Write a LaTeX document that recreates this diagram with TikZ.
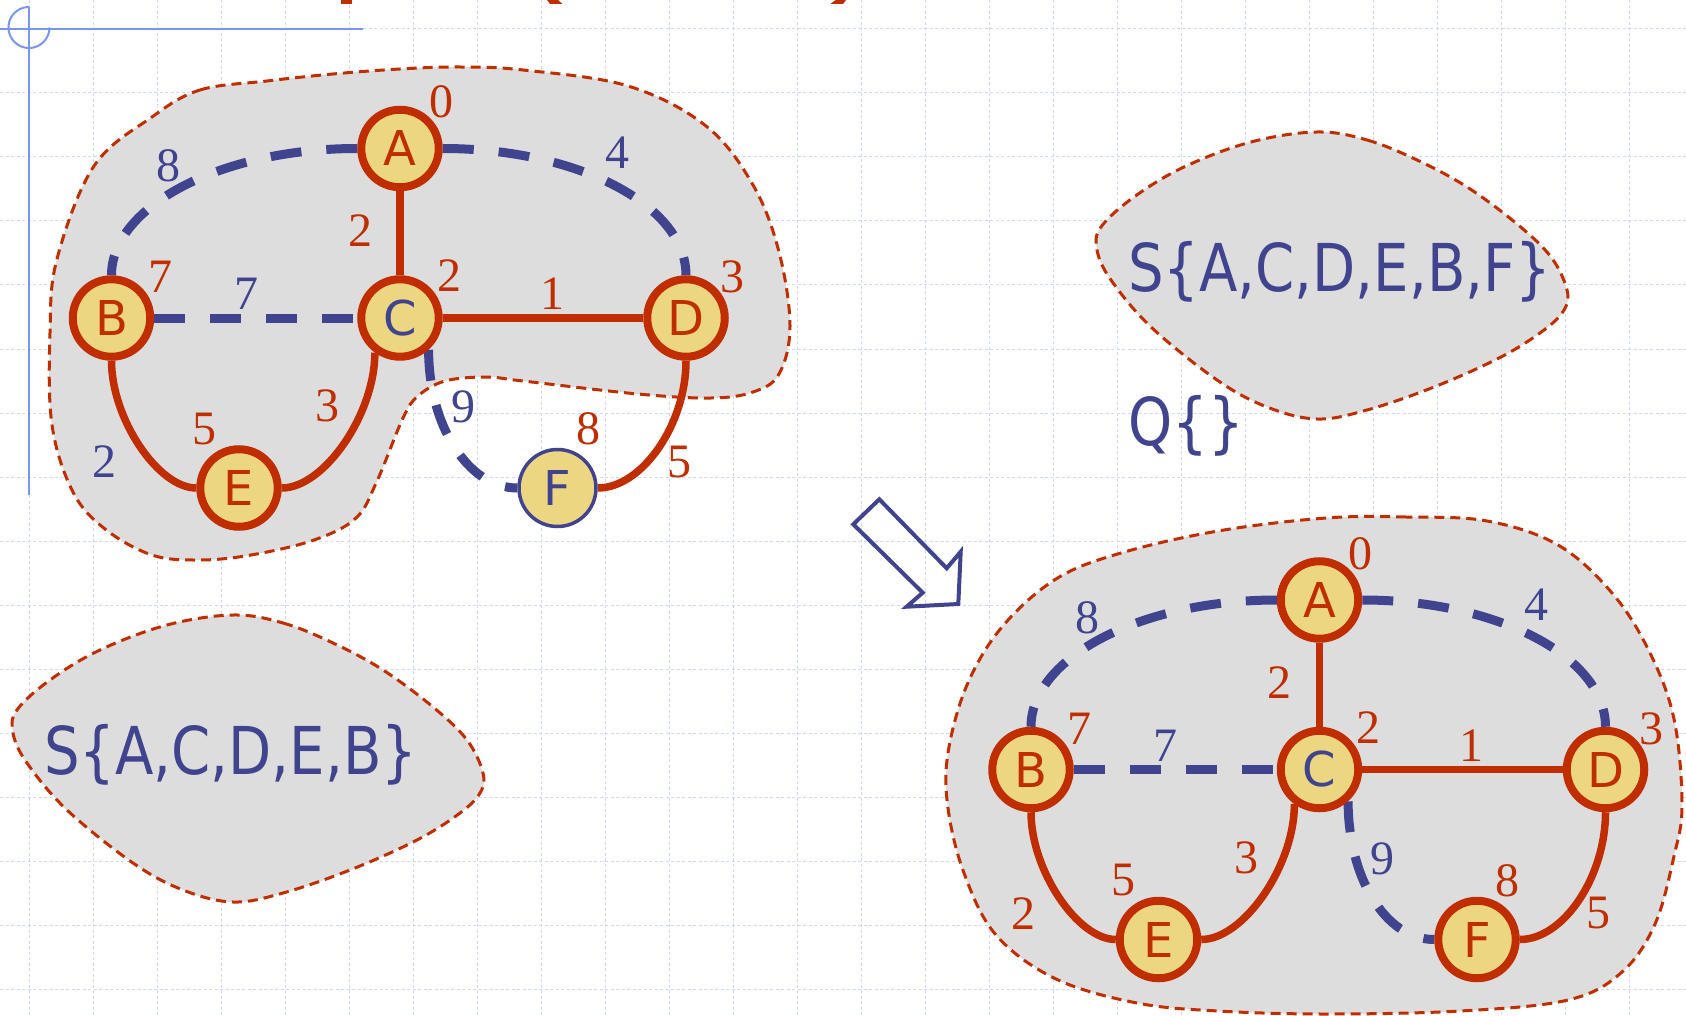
\documentclass[tikz,border=0pt]{standalone}
\usepackage{fontspec}
\usetikzlibrary{calc}
\newfontfamily\vtxfont{DejaVu Sans}
\newfontfamily\setfont[FakeStretch=0.85]{DejaVu Sans}
\newfontfamily\numfont{Liberation Serif}

\definecolor{gred}{RGB}{192,46,0}
\definecolor{gblue}{RGB}{64,68,142}
\definecolor{gyellow}{RGB}{236,214,130}
\definecolor{blobgray}{RGB}{221,221,221}
\definecolor{gridblue}{RGB}{205,215,247}
\definecolor{axisblue}{RGB}{120,150,240}

\pgfdeclarelayer{bg}
\pgfdeclarelayer{edges}
\pgfsetlayers{bg,edges,main}

\tikzset{
  vtx/.style={circle, draw=gred, line width=8pt, fill=gyellow, minimum size=77.5pt,
    inner sep=0pt, text=gred, font=\vtxfont\fontsize{48}{48}\selectfont},
  vtxopen/.style={vtx, draw=gblue, line width=3.5pt, minimum size=77pt, text=gblue},
  solidedge/.style={draw=gred, line width=7.5pt},
  dashededge/.style={draw=gblue, line width=9pt, dash pattern=on 31pt off 25pt},
  wlbl/.style={inner sep=0pt, font=\numfont\fontsize{48}{48}\selectfont},
  blob/.style={fill=blobgray, draw=gred, line width=3pt, dash pattern=on 10pt off 6pt},
  settext/.style={inner sep=0pt, text=gblue, font=\setfont\fontsize{66}{66}\selectfont},
  gridline/.style={draw=gridblue, line width=1pt, dash pattern=on 3pt off 2.5pt},
}

% one copy of the weighted graph: #1 name prefix, #2/#3 offset,
% #4 style of vertex F, #5 colour of the weight of edge B--E
\newcommand\drawgraph[5]{%
  \node[vtx] (#1A) at (400+#2,148.5+#3) {A};
  \node[vtx] (#1B) at (111.5+#2,318+#3) {B};
  \node[vtx, text=gblue] (#1C) at (400+#2,318+#3) {C};
  \node[vtx] (#1D) at (686+#2,318+#3) {D};
  \node[vtx] (#1E) at (239+#2,488+#3) {E};
  \node[#4] (#1F) at (557.5+#2,488+#3) {F};
  \begin{pgfonlayer}{edges}
    \draw[solidedge] (#1A) -- (#1C);
    \draw[solidedge] (#1C) -- (#1D);
    \draw[dashededge] (#1B.east) -- (#1C.west);
    \draw[dashededge] (#1A.west) .. controls ($(#1A.west)+(-136,0)$) and ($(#1B.north)+(0,-69)$) .. (#1B.north);
    \draw[dashededge] (#1A.east) .. controls ($(#1A.east)+(135,0)$) and ($(#1D.north)+(0,-70)$) .. (#1D.north);
    \draw[solidedge] (#1B.south) .. controls ($(#1B.south)+(0,58)$) and ($(#1E.west)+(-38,0)$) .. (#1E.west);
    \draw[solidedge] (#1C.234) .. controls ($(#1C.234)+(0,62)$) and ($(#1E.east)+(42,0)$) .. (#1E.east);
    \draw[dashededge] (#1C.-48) .. controls ($(#1C.-48)+(0,76)$) and ($(#1F.west)+(-49,0)$) .. (#1F.west);
    \draw[solidedge] (#1D.south) .. controls ($(#1D.south)+(0,64)$) and ($(#1F.east)+(44,0)$) .. (#1F.east);
  \end{pgfonlayer}
  \node[wlbl, text=gred]  (#1d0)  at (441+#2,102+#3) {0};
  \node[wlbl, text=gblue] (#1wAB) at (168+#2,166+#3) {8};
  \node[wlbl, text=gblue] (#1wAD) at (617+#2,153+#3) {4};
  \node[wlbl, text=gred]  (#1wAC) at (360+#2,231+#3) {2};
  \node[wlbl, text=gred]  (#1dB)  at (160+#2,277+#3) {7};
  \node[wlbl, text=gblue] (#1wBC) at (246+#2,294+#3) {7};
  \node[wlbl, text=gred]  (#1dC)  at (449+#2,276+#3) {2};
  \node[wlbl, text=gred]  (#1wCD) at (552+#2,294+#3) {1};
  \node[wlbl, text=gred]  (#1dD)  at (732+#2,277+#3) {3};
  \node[wlbl, text=gred]  (#1wCE) at (327+#2,406+#3) {3};
  \node[wlbl, text=gred]  (#1dE)  at (204+#2,429+#3) {5};
  \node[wlbl, text=#5]    (#1wBE) at (104+#2,462+#3) {2};
  \node[wlbl, text=gblue] (#1wCF) at (463+#2,407+#3) {9};
  \node[wlbl, text=gred]  (#1dF)  at (588+#2,429+#3) {8};
  \node[wlbl, text=gred]  (#1wDF) at (679+#2,462+#3) {5};
}

% outline of the small set clouds
\newcommand\setcloud{%
  plot[smooth cycle, tension=0.6] coordinates {
    (233,615) (283,623) (333,643) (383,670) (433,707) (467,740) (483,773)
    (480,793) (460,813) (417,840) (350,870) (283,893) (233,902) (183,890)
    (133,863) (67,810) (27,763) (13,733) (17,710) (50,680) (100,650) (167,625)}}

\begin{document}
\begin{tikzpicture}[x=1pt, y=-1pt]
\useasboundingbox (0,0) rectangle (1686,1016);

\begin{pgfonlayer}{bg}
  \fill[white] (0,0) rectangle (1686,1016);
  % ruled background
  \foreach \k in {0,...,25} \draw[gridline] (29+64*\k,0) -- (29+64*\k,1016);
  \foreach \k in {0,...,15} \draw[gridline] (0,29+64*\k) -- (1686,29+64*\k);
  % guides in the corner
  \draw[axisblue, line width=2pt] (0,29) -- (363,29);
  \draw[axisblue, line width=2pt] (29,7) -- (29,495);
  \draw[axisblue, line width=2pt] plot[domain=90:360, samples=40, smooth] ({29+20.5*cos(\x)}, {27.5-20.5*sin(\x)});
  % lower ends of the heading letters
  \fill[gred] (341,0) rectangle (352,4);
  \fill[gred] (547,0) -- (558,0) -- (562.5,4) -- (550,4) -- cycle;
  \fill[gred] (835.7,0) -- (846,0) -- (843,4) -- (830.4,4) -- cycle;

  % cloud around the vertices already settled (before)
  \draw[blob] plot[smooth cycle, tension=0.6] coordinates {
    (152,117) (200,90) (267,81) (333,74) (400,69) (460,67) (523,70) (628,86)
    (706,126) (753,185) (779,252) (790,326) (779,374) (753,392) (711,398)
    (638,394) (523,381) (486,377) (445,381) (418,396) (403,418) (377,481)
    (356,518) (314,540) (251,555) (199,560) (152,555) (105,529) (73,492)
    (52,425) (50,333) (57,259) (94,166)};
  % cloud around all vertices (after)
  \draw[blob] plot[smooth cycle, tension=0.6] coordinates {
    (1487,521) (1406,517) (1326,518) (1218,531) (1121,553) (1056,579)
    (1002,627) (967,685) (948,753) (948,808) (964,873) (996,935) (1056,979)
    (1137,1003) (1218,1011) (1326,1014) (1460,1011) (1568,1000) (1622,972)
    (1655,924) (1674,856) (1682,805) (1674,719) (1649,651) (1612,593) (1558,545)};
  % set clouds
  \draw[blob] \setcloud;
  \begin{scope}[shift={(1084,-483)}]
    \draw[blob] \setcloud;
  \end{scope}
\end{pgfonlayer}

% step arrow
\draw[gblue, line width=4pt, line join=miter] (879.3,499.3) -- (853.3,524.3) -- (922.7,592.7)
  -- (906.7,606.7) -- (958.3,604) -- (960.7,551.7) -- (946.7,568.3) -- cycle;

\drawgraph{L}{0}{0}{vtxopen}{gblue}
\drawgraph{R}{919.5}{451.5}{vtx}{gred}

\node[settext, anchor=base west] (setS)  at (44,774)   {S\{A,C,D,E,B\}};
\node[settext, anchor=base west] (setSF) at (1128,291) {S\{A,C,D,E,B,F\}};
\node[settext, anchor=base west] (setQ)  at (1128,445) {Q\{\}};
\end{tikzpicture}
\end{document}
